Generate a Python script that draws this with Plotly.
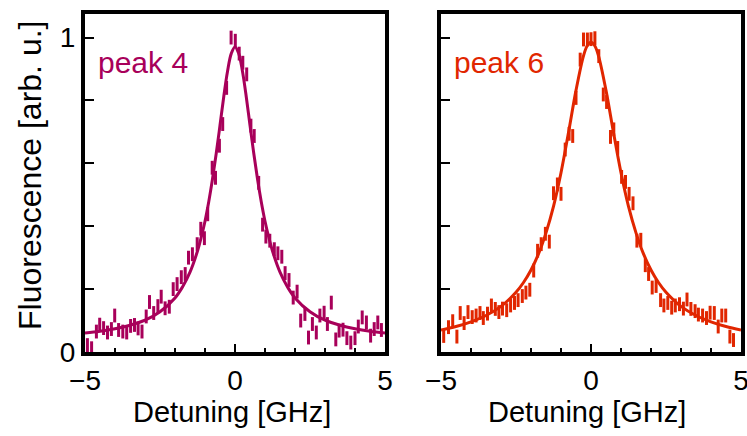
import plotly.graph_objects as go

# ---------------- data ----------------
# peak 4 : measured points (detuning GHz, fluorescence)
p4_x = [-4.92, -4.78, -4.62, -4.51, -4.38, -4.25, -4.12, -4.01, -3.88, -3.74,
        -3.61, -3.48, -3.35, -3.23, -3.10, -2.96, -2.85, -2.71, -2.57, -2.46,
        -2.33, -2.19, -2.06, -1.93, -1.79, -1.66, -1.55, -1.42, -1.26, -1.14,
        -1.02, -0.91, -0.76, -0.65, -0.52, -0.41, -0.28, -0.13, 0.01, 0.14,
        0.26, 0.39, 0.53, 0.64, 0.79, 0.92, 1.03, 1.16, 1.31, 1.43,
        1.56, 1.67, 1.80, 1.94, 2.07, 2.19, 2.33, 2.45, 2.58, 2.71,
        2.83, 2.97, 3.08, 3.21, 3.36, 3.47, 3.60, 3.73, 3.86, 4.00,
        4.11, 4.24, 4.38, 4.52, 4.64, 4.76, 4.88]
p4_y = [0.022, 0.012, 0.065, 0.087, 0.076, 0.062, 0.073, 0.116, 0.070, 0.065,
        0.062, 0.083, 0.086, 0.075, 0.065, 0.113, 0.159, 0.124, 0.146, 0.176,
        0.139, 0.144, 0.200, 0.216, 0.238, 0.248, 0.300, 0.311, 0.343, 0.392,
        0.362, 0.438, 0.586, 0.554, 0.656, 0.725, 0.840, 1.000, 0.990, 0.949,
        0.920, 0.883, 0.720, 0.687, 0.538, 0.405, 0.367, 0.354, 0.327, 0.314,
        0.303, 0.251, 0.229, 0.173, 0.192, 0.100, 0.121, 0.046, 0.089, 0.062,
        0.116, 0.125, 0.089, 0.157, 0.040, 0.068, 0.071, 0.044, 0.030, 0.044,
        0.081, 0.110, 0.094, 0.052, 0.073, 0.094, 0.070]

# peak 4 : fit curve samples
fit4_x = [-5, -4.5, -4, -3.5, -3, -2.5, -2, -1.75, -1.5, -1.25, -1.125, -1, -0.875,
          -0.75, -0.625, -0.5, -0.375, -0.25, -0.125, 0, 0.125, 0.25, 0.375, 0.5,
          0.625, 0.75, 0.875, 1, 1.125, 1.25, 1.5, 1.75, 2, 2.5, 3, 3.5, 4, 4.5, 5]
fit4_y = [0.060, 0.066, 0.074, 0.085, 0.101, 0.128, 0.172, 0.207, 0.254, 0.321, 0.365,
          0.416, 0.478, 0.550, 0.632, 0.721, 0.812, 0.892, 0.949, 0.970, 0.949, 0.892,
          0.812, 0.721, 0.632, 0.550, 0.478, 0.416, 0.365, 0.321, 0.254, 0.207, 0.172,
          0.128, 0.101, 0.085, 0.074, 0.066, 0.060]

# peak 6 : measured points
p6_x = [-4.91, -4.75, -4.61, -4.47, -4.36, -4.23, -4.10, -3.96, -3.83, -3.70,
        -3.59, -3.45, -3.32, -3.19, -3.07, -2.95, -2.81, -2.68, -2.55, -2.43,
        -2.29, -2.17, -2.04, -1.91, -1.78, -1.66, -1.52, -1.39, -1.25, -1.12,
        -1.00, -0.86, -0.73, -0.61, -0.50, -0.36, -0.25, -0.12, 0.00, 0.13,
        0.26, 0.41, 0.52, 0.65, 0.76, 0.89, 1.02, 1.15, 1.27, 1.40,
        1.53, 1.66, 1.81, 1.92, 2.04, 2.17, 2.32, 2.43, 2.56, 2.69,
        2.81, 2.95, 3.08, 3.20, 3.33, 3.47, 3.58, 3.72, 3.85, 3.97,
        4.11, 4.24, 4.36, 4.49, 4.63, 4.75]
p6_y = [0.051, 0.079, 0.098, 0.049, 0.124, 0.092, 0.127, 0.111, 0.116, 0.124,
        0.108, 0.122, 0.148, 0.137, 0.127, 0.138, 0.133, 0.148, 0.156, 0.165,
        0.178, 0.189, 0.198, 0.259, 0.322, 0.343, 0.376, 0.351, 0.505, 0.533,
        0.503, 0.644, 0.694, 0.687, 0.808, 0.930, 0.994, 0.994, 0.995, 0.998,
        0.941, 0.819, 0.795, 0.684, 0.708, 0.649, 0.557, 0.541, 0.503, 0.473,
        0.354, 0.357, 0.276, 0.248, 0.205, 0.210, 0.165, 0.148, 0.156, 0.141,
        0.148, 0.152, 0.138, 0.167, 0.137, 0.130, 0.119, 0.116, 0.108, 0.125,
        0.124, 0.081, 0.116, 0.116, 0.049, 0.038]

# peak 6 : fit curve samples
fit6_x = [-5, -4.5, -4, -3.5, -3, -2.5, -2.25, -2, -1.75, -1.5, -1.25, -1, -0.75,
          -0.5, -0.25, -0.125, 0, 0.125, 0.25, 0.5, 0.75, 1, 1.25, 1.5, 1.75, 2,
          2.25, 2.5, 3, 3.5, 4, 4.5, 5]
fit6_y = [0.070, 0.081, 0.096, 0.116, 0.145, 0.190, 0.221, 0.261, 0.312, 0.379,
          0.463, 0.570, 0.698, 0.832, 0.942, 0.974, 0.985, 0.974, 0.942, 0.832,
          0.698, 0.570, 0.463, 0.379, 0.312, 0.261, 0.221, 0.190, 0.145, 0.116,
          0.096, 0.081, 0.070]

err_half = 0.022
x_ticks = [-5, 0, 5]
x_ticktext = ["\u22125", "0", "5"]
x_minor = [-4, -3, -2, -1, 1, 2, 3, 4]
y_ticks = [0, 0.2, 0.4, 0.6, 0.8, 1.0]
y_ticktext_left = ["0", "", "", "", "", "1"]
y_ticktext_right = ["", "", "", "", "", ""]

# ---------------- styles ----------------
C4 = "#A8005A"
C6 = "#E12600"
FONT = "Liberation Sans, Arial, sans-serif"

fig = go.Figure()

def add_panel(xs, ys, fx, fy, color, xa, ya):
    fig.add_trace(go.Scatter(
        x=xs, y=ys, mode="markers",
        marker=dict(size=1, color=color, opacity=0),
        error_y=dict(type="constant", value=err_half, color=color,
                     thickness=3, width=0),
        xaxis=xa, yaxis=ya, showlegend=False, hoverinfo="skip"))
    fig.add_trace(go.Scatter(
        x=fx, y=fy, mode="lines", line=dict(color=color, width=3, shape="spline"),
        xaxis=xa, yaxis=ya, showlegend=False, hoverinfo="skip"))

add_panel(p4_x, p4_y, fit4_x, fit4_y, C4, "x", "y")
add_panel(p6_x, p6_y, fit6_x, fit6_y, C6, "x2", "y2")

W, H = 747, 436
xdom1 = [85 / W, 385 / W]
xdom2 = [441 / W, 741 / W]
ydom = [1 - 352 / H, 1 - 14 / H]

common_x = dict(range=[-5, 5], showline=True, linewidth=4, linecolor="black",
                mirror=True, ticks="inside", ticklen=8, tickwidth=2, tickcolor="black",
                tickvals=x_ticks, ticktext=x_ticktext, automargin=False,
                ticklabeloverflow="allow",
                minor=dict(tickvals=x_minor, ticks="inside",
                           ticklen=4, tickwidth=2, tickcolor="black"),
                showgrid=False, zeroline=False,
                tickfont=dict(family=FONT, size=28, color="black"))
common_y = dict(range=[0, 1.075], showline=True, linewidth=4, linecolor="black",
                mirror=True, ticks="inside", ticklen=9, tickwidth=2, tickcolor="black",
                tickvals=y_ticks, showgrid=False, zeroline=False, automargin=False,
                tickfont=dict(family=FONT, size=28, color="black"))

fig.update_layout(
    template="none",
    width=W, height=H, margin=dict(l=0, r=0, t=0, b=0, pad=0),
    paper_bgcolor="white", plot_bgcolor="white",
    xaxis=dict(domain=xdom1, anchor="y", **common_x),
    xaxis2=dict(domain=xdom2, anchor="y2", **common_x),
    yaxis=dict(domain=ydom, anchor="x", ticktext=y_ticktext_left, **common_y),
    yaxis2=dict(domain=ydom, anchor="x2", ticktext=y_ticktext_right, **common_y),
    annotations=[
        dict(text="Fluorescence [arb. u.]", xref="paper", yref="paper",
             x=30 / W, y=1 - 176 / H, textangle=-90, showarrow=False,
             xanchor="center", yanchor="middle",
             font=dict(family=FONT, size=32, color="black")),
        dict(text="Detuning [GHz]", xref="paper", yref="paper",
             x=232 / W, y=1 - 412 / H, showarrow=False,
             xanchor="center", yanchor="middle",
             font=dict(family=FONT, size=29, color="black")),
        dict(text="Detuning [GHz]", xref="paper", yref="paper",
             x=587 / W, y=1 - 412 / H, showarrow=False,
             xanchor="center", yanchor="middle",
             font=dict(family=FONT, size=29, color="black")),
        dict(text="peak 4", xref="paper", yref="paper", xanchor="left",
             yanchor="middle", x=96 / W, y=1 - 62 / H, showarrow=False,
             font=dict(family=FONT, size=30, color=C4)),
        dict(text="peak 6", xref="paper", yref="paper", xanchor="left",
             yanchor="middle", x=452 / W, y=1 - 62 / H, showarrow=False,
             font=dict(family=FONT, size=30, color=C6)),
    ],
)

fig.write_html("out.html")
